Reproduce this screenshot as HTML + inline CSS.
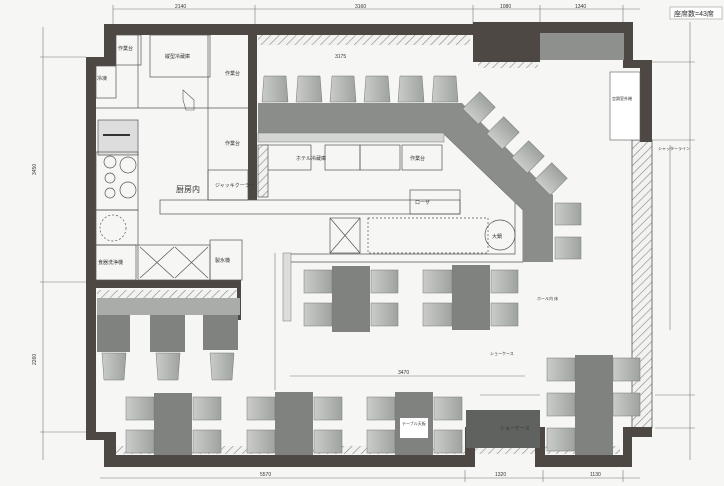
<!DOCTYPE html>
<html><head><meta charset="utf-8"><style>
html,body{margin:0;padding:0;background:#f6f6f4;width:724px;height:486px;overflow:hidden}
svg{display:block}
text{font-family:"Liberation Sans","Noto Sans CJK JP",sans-serif;fill:#333}
</style></head><body>
<svg width="724" height="486" viewBox="0 0 724 486" xmlns="http://www.w3.org/2000/svg">
<defs>
<pattern id="h" width="6" height="6" patternUnits="userSpaceOnUse" patternTransform="rotate(45)">
<rect width="6" height="6" fill="#f2f2f0"/><line x1="0" y1="0" x2="0" y2="6" stroke="#888" stroke-width="1.2"/></pattern>
<linearGradient id="ch" x1="0" y1="0" x2="1" y2="0"><stop offset="0" stop-color="#c9ccc8"/><stop offset="1" stop-color="#9fa39f"/></linearGradient>
</defs>
<rect width="724" height="486" fill="#f6f6f4"/>

<!-- dimension lines -->
<g stroke="#777" stroke-width="0.6" fill="none">
<line x1="113" y1="9" x2="640" y2="9"/><line x1="113" y1="5" x2="113" y2="25"/><line x1="255" y1="5" x2="255" y2="25"/><line x1="473" y1="5" x2="473" y2="25"/><line x1="540" y1="5" x2="540" y2="25"/><line x1="623" y1="5" x2="623" y2="25"/>
<line x1="43" y1="27" x2="43" y2="460"/><line x1="40" y1="57" x2="86" y2="57"/><line x1="40" y1="282" x2="86" y2="282"/><line x1="40" y1="432" x2="86" y2="432"/>
<line x1="100" y1="478" x2="640" y2="478"/><line x1="465" y1="470" x2="465" y2="482"/><line x1="543" y1="470" x2="543" y2="482"/><line x1="623" y1="470" x2="623" y2="482"/>
<line x1="690" y1="22" x2="690" y2="460"/><line x1="650" y1="62" x2="695" y2="62"/><line x1="650" y1="140" x2="695" y2="140"/><line x1="655" y1="395" x2="695" y2="395"/><line x1="655" y1="428" x2="695" y2="428"/>
<line x1="670" y1="145" x2="670" y2="330"/>
<line x1="290" y1="376" x2="525" y2="376"/><line x1="275" y1="253" x2="275" y2="390"/>
<line x1="480" y1="395" x2="540" y2="395"/>
</g>
<g font-size="5">
<text x="175" y="8">2140</text><text x="355" y="8">3160</text><text x="500" y="8">1080</text><text x="575" y="8">1340</text>
<text x="36" y="175" transform="rotate(-90 36 175)">3450</text><text x="36" y="365" transform="rotate(-90 36 365)">2260</text>
<text x="260" y="476">5570</text><text x="495" y="476">1320</text><text x="590" y="476">1130</text>
<text x="398" y="374">3470</text><text x="333" y="128">2540</text><text x="335" y="58">3175</text>
</g>
<rect x="670" y="7" width="52" height="12" fill="#fff" stroke="#999" stroke-width="0.6"/>
<text x="674" y="16" font-size="7">座席数=43席</text>

<!-- right hatched wall -->
<rect x="632" y="140" width="20" height="288" fill="url(#h)" stroke="#555" stroke-width="0.8"/>
<rect x="258" y="35" width="212" height="10" fill="url(#h)"/>
<rect x="478" y="60" width="60" height="8" fill="url(#h)"/>
<rect x="97" y="290" width="143" height="8" fill="url(#h)"/>
<rect x="105" y="446" width="515" height="8" fill="url(#h)"/>

<!-- walls -->
<g fill="#4d4844">
<rect x="104" y="24" width="372" height="11"/>
<rect x="104" y="24" width="12" height="42"/>
<rect x="86" y="57" width="30" height="9"/>
<rect x="86" y="57" width="10" height="383"/>
<rect x="86" y="432" width="30" height="8"/>
<rect x="104" y="432" width="12" height="35"/>
<rect x="104" y="455" width="363" height="12"/>
<rect x="465" y="427" width="10" height="40"/>
<rect x="465" y="427" width="80" height="10"/>
<rect x="535" y="427" width="10" height="40"/>
<rect x="535" y="455" width="97" height="12"/>
<rect x="623" y="427" width="9" height="40"/>
<rect x="623" y="427" width="29" height="10"/>
<rect x="473" y="22" width="67" height="40"/>
<rect x="540" y="22" width="93" height="11"/>
<rect x="623" y="22" width="10" height="40"/>
<rect x="623" y="60" width="29" height="8"/>
<rect x="640" y="60" width="12" height="82"/>
<rect x="248" y="35" width="9" height="165"/>
<rect x="86" y="280" width="155" height="8"/>
<rect x="237" y="280" width="4" height="40"/>
</g>
<rect x="540" y="33" width="84" height="27" fill="#8d908d"/>
<rect x="610" y="72" width="30" height="68" fill="#fff" stroke="#555" stroke-width="0.6"/>
<text x="612" y="100" font-size="4">空調室外機</text>

<!-- kitchen -->
<g fill="none" stroke="#555" stroke-width="0.7">
<rect x="116" y="35" width="25" height="30"/><rect x="96" y="66" width="20" height="32"/>
<rect x="150" y="35" width="60" height="42"/><line x1="96" y1="108" x2="248" y2="108"/>
<line x1="138" y1="35" x2="138" y2="108"/><line x1="208" y1="35" x2="208" y2="200"/>
<rect x="98" y="120" width="40" height="35" fill="#ddd"/><line x1="103" y1="135" x2="130" y2="135" stroke="#333" stroke-width="2"/>
<rect x="96" y="152" width="42" height="58"/>
<circle cx="110" cy="162" r="6"/><circle cx="128" cy="165" r="8"/><circle cx="110" cy="178" r="5"/><circle cx="110" cy="193" r="5"/><circle cx="128" cy="190" r="8"/>
<rect x="96" y="210" width="42" height="35"/><circle cx="113" cy="228" r="13" stroke-dasharray="2 2"/>
<rect x="96" y="245" width="40" height="35"/><rect x="138" y="245" width="72" height="35"/>
<path d="M140 247L174 278M174 247L140 278M175 247L208 278M208 247L175 278"/>
<rect x="210" y="240" width="32" height="40"/>
<rect x="208" y="170" width="40" height="30"/>
<rect x="160" y="200" width="300" height="14"/>
<rect x="410" y="190" width="50" height="24"/>
<rect x="263" y="145" width="48" height="25"/><rect x="325" y="145" width="35" height="25"/><rect x="360" y="145" width="40" height="25"/><rect x="402" y="145" width="40" height="25"/>
<rect x="258" y="145" width="10" height="52" fill="url(#h)"/>
<rect x="330" y="218" width="30" height="35"/><path d="M330 218L360 253M360 218L330 253"/>
<rect x="368" y="218" width="120" height="35" stroke-dasharray="2 2"/>
<path d="M443 133L523 210L523 262L290 262"/><path d="M453 140L515 200L515 254L290 254"/>
<circle cx="500" cy="235" r="15"/>
</g>
<g font-size="5">
<text x="118" y="50">作業台</text><text x="165" y="58">縦型冷蔵庫</text><text x="225" y="75">作業台</text>
<text x="97" y="80">冷凍</text><text x="225" y="145">作業台</text><text x="215" y="187">ジャッキクーラー</text>
<text x="176" y="192" font-size="8">厨房内</text><text x="98" y="264">食器洗浄機</text><text x="215" y="262">製氷機</text>
<text x="415" y="204">ローザ</text><text x="492" y="238">大鍋</text><text x="296" y="160">ホテル冷蔵庫</text><text x="410" y="160">作業台</text>
</g>
<polygon points="183,90 194,100 194,110 186,110 183,100" fill="none" stroke="#555" stroke-width="0.6"/>

<!-- counter -->
<polygon points="258,103 462,103 553,195 553,262 523,262 523,210 443,133 258,133" fill="#8a8d8a"/>
<rect x="258" y="133" width="186" height="9" fill="#d4d6d3" stroke="#777" stroke-width="0.5"/>
<rect x="283" y="253" width="8" height="68" fill="#ddd" stroke="#777" stroke-width="0.5"/>

<!-- chairs top -->
<g fill="url(#ch)" stroke="#777" stroke-width="0.5">
<path d="M264 76h22l2 26h-26z"/><path d="M298 76h22l2 26h-26z"/><path d="M332 76h22l2 26h-26z"/><path d="M366 76h22l2 26h-26z"/><path d="M400 76h22l2 26h-26z"/><path d="M434 76h22l2 26h-26z"/>
<rect x="467" y="97" width="24" height="22" transform="rotate(-45 479 108)"/>
<rect x="491" y="122" width="24" height="22" transform="rotate(-45 503 133)"/>
<rect x="516" y="146" width="24" height="22" transform="rotate(-45 528 157)"/>
<rect x="539" y="168" width="24" height="22" transform="rotate(-45 551 179)"/>
<rect x="555" y="203" width="26" height="22"/><rect x="555" y="237" width="26" height="22"/>
</g>

<!-- tables -->
<g fill="#7f827f">
<rect x="332" y="266" width="38" height="66"/><rect x="452" y="265" width="38" height="65"/>
<rect x="154" y="393" width="38" height="62"/><rect x="275" y="392" width="38" height="63"/><rect x="395" y="392" width="38" height="63"/>
<rect x="575" y="355" width="38" height="100"/>
<rect x="97" y="315" width="33" height="37"/><rect x="150" y="315" width="35" height="37"/><rect x="203" y="315" width="35" height="35"/>
</g>
<rect x="97" y="298" width="143" height="17" fill="#a9aca9"/>
<rect x="466" y="410" width="74" height="38" fill="#5f625f"/>
<text x="500" y="430" font-size="5" fill="#fff">ショーケース</text>
<rect x="400" y="418" width="28" height="20" fill="#fff"/>
<text x="402" y="425" font-size="4">テーブル天板</text>

<!-- chairs -->
<g fill="url(#ch)" stroke="#777" stroke-width="0.5">
<rect x="304" y="270" width="28" height="23"/><rect x="304" y="303" width="28" height="23"/><rect x="371" y="270" width="27" height="23"/><rect x="371" y="303" width="27" height="23"/>
<rect x="423" y="270" width="29" height="23"/><rect x="423" y="303" width="29" height="23"/><rect x="491" y="270" width="27" height="23"/><rect x="491" y="303" width="27" height="23"/>
<rect x="126" y="397" width="28" height="23"/><rect x="126" y="430" width="28" height="23"/><rect x="193" y="397" width="28" height="23"/><rect x="193" y="430" width="28" height="23"/>
<rect x="247" y="397" width="28" height="23"/><rect x="247" y="430" width="28" height="23"/><rect x="314" y="397" width="28" height="23"/><rect x="314" y="430" width="28" height="23"/>
<rect x="367" y="397" width="28" height="23"/><rect x="367" y="430" width="28" height="23"/><rect x="434" y="397" width="28" height="23"/><rect x="434" y="430" width="28" height="23"/>
<rect x="547" y="358" width="28" height="23"/><rect x="547" y="393" width="28" height="23"/><rect x="547" y="428" width="28" height="23"/>
<rect x="613" y="358" width="27" height="23"/><rect x="613" y="393" width="27" height="23"/>
<path d="M102 353h24l-2 27h-20z"/><path d="M156 353h24l-2 27h-20z"/><path d="M210 353h24l-2 27h-20z"/>
</g>
<g font-size="4"><text x="537" y="300">ホール内 床</text><text x="490" y="355">ショーケース</text><text x="658" y="150">シャッターライン</text></g>
</svg>
</body></html>
